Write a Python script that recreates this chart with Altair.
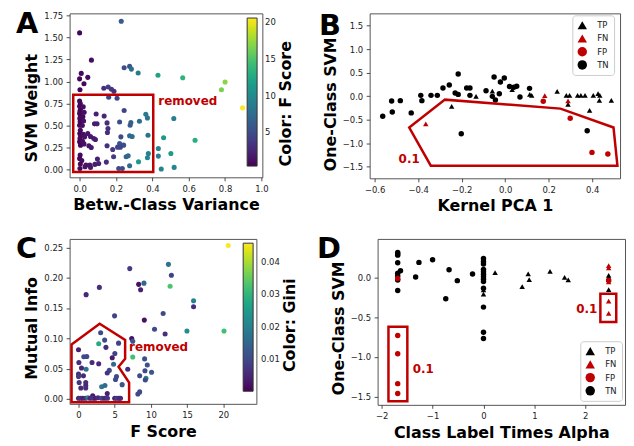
import altair as alt
import pandas as pd

FONT = "DejaVu Sans"
RED = "#c00000"
INK = "#222222"

# ---------------- Panel A data ----------------
A_x = [0.000, 0.229, 0.065, 0.009, 0.000, 0.045, 0.024, 0.002, 0.245, 0.275, 0.285, 0.322,
       0.431, 0.567, 0.800, 0.780, 0.896, 0.133, 0.157, 0.175, 0.189, 0.160, 0.206,
       0.433, 0.462, 0.433, 0.449, 0.502, 0.520, 0.518, 0.635,
       0.000, 0.004, 0.000, 0.006, 0.002, 0.000, 0.005, 0.001, 0.003, 0.000, 0.004, 0.001,
       0.006, 0.002, 0.000, 0.005, 0.003, 0.000, 0.004, 0.002,
       0.020, 0.025, 0.018, 0.022, 0.015, 0.020, 0.028, 0.016, 0.024, 0.012, 0.030,
       0.091, 0.135, 0.082, 0.096, 0.151, 0.156, 0.153, 0.045, 0.060, 0.078, 0.087, 0.051,
       0.064, 0.151, 0.182, 0.187, 0.098, 0.105, 0.084, 0.056, 0.035, 0.060, 0.147, 0.220,
       0.245, 0.282, 0.329, 0.364, 0.373, 0.278, 0.275, 0.289, 0.227, 0.242, 0.220, 0.224,
       0.256, 0.267, 0.215, 0.235, 0.275, 0.324, 0.376, 0.378, 0.373, 0.209]
A_y = [1.553, 1.685, 1.243, 1.092, 1.030, 1.047, 0.975, 0.907, 1.156, 1.172, 1.141, 1.096,
       1.070, 1.043, 0.994, 0.907, 0.700, 0.923, 0.937, 0.911, 0.889, 0.820, 0.810,
       0.238, 0.359, 0.151, 0.004, 0.181, 0.023, 0.578, 0.332,
       0.778, 0.748, 0.718, 0.692, 0.665, 0.635, 0.605, 0.578, 0.541, 0.503, 0.446, 0.408,
       0.378, 0.351, 0.314, 0.276, 0.163, 0.125, 0.061, 0.011,
       0.712, 0.650, 0.600, 0.550, 0.500, 0.400, 0.370, 0.320, 0.290, 0.100, 0.030,
       0.631, 0.608, 0.518, 0.518, 0.529, 0.465, 0.419, 0.408, 0.374, 0.351, 0.340, 0.268,
       0.249, 0.268, 0.227, 0.144, 0.117, 0.068, 0.057, 0.049, 0.049, 0.023, 0.083, 0.540,
       0.669, 0.533, 0.548, 0.627, 0.586, 0.502, 0.382, 0.374, 0.370, 0.276, 0.295, 0.253,
       0.144, 0.155, 0.011, 0.011, 0.042, 0.087, 0.389, 0.181, 0.132, 0.253]
A_f = [0.6, 6.0, 1.0, 0.8, 0.6, 0.9, 0.8, 0.5, 5.0, 5.5, 7.5, 8.5,
       12.0, 13.5, 17.0, 16.5, 20.6, 3.0, 4.0, 3.5, 3.2, 4.5, 4.2,
       9.5, 11.0, 9.0, 9.2, 11.5, 9.5, 9.0, 13.0,
       0.5, 0.7, 0.6, 0.8, 0.5, 0.7, 0.6, 0.9, 0.6, 0.5, 0.8, 0.6,
       0.7, 0.9, 0.5, 0.6, 0.7, 0.5, 0.8, 0.6,
       1.0, 1.1, 0.9, 1.2, 1.0, 1.1, 1.3, 1.0, 1.2, 0.9, 1.2,
       2.0, 2.5, 1.8, 2.0, 3.0, 3.2, 3.0, 1.5, 1.6, 1.8, 1.9, 1.5,
       1.7, 3.2, 3.8, 3.9, 2.1, 2.2, 1.9, 1.5, 1.3, 1.6, 3.0, 5.0,
       4.5, 6.5, 7.5, 8.5, 8.0, 6.0, 7.0, 7.5, 4.8, 5.2, 5.5, 4.5,
       6.5, 7.0, 5.0, 5.2, 7.5, 11.0, 8.0, 9.0, 9.5, 4.5]
A_box_x = [-0.035, 0.405]
A_box_y = [-0.03, 0.85]
A_note = ["removed"]
A_note_x = [0.433]
A_note_y = [0.782]

# ---------------- Panel B data ----------------
B_x = [-0.563, -0.522, -0.519, -0.482, -0.432, -0.388, -0.383, -0.341, -0.312, -0.286,
       -0.257, -0.230, -0.216, -0.216, -0.177, -0.162, -0.162, -0.088, -0.051, -0.059,
       -0.045, -0.022, -0.004, -0.027, 0.020, 0.040, 0.053, 0.068, 0.112, -0.202, 0.377,
       -0.246, -0.134, -0.059, 0.032, 0.113, 0.122, 0.239, 0.281, 0.296, 0.289, 0.333,
       0.348, 0.367, 0.405, 0.427, 0.435, 0.433, 0.488, 0.388,
       -0.365, 0.182, 0.289,
       0.175, 0.299, 0.399, 0.472]
B_y = [-0.428, -0.102, -0.335, -0.095, -0.356, 0.017, -0.095, 0.017, 0.017, 0.174,
       0.237, 0.068, 0.038, 0.470, 0.174, 0.174, 0.017, 0.116, 0.407, -0.004,
       -0.080, 0.300, 0.385, 0.053, 0.205, 0.190, 0.212, -0.017, 0.166, -0.800, -0.735,
       -0.216, -0.004, 0.105, 0.140, 0.038, 0.017, 0.102, 0.017, 0.017, -0.173, 0.017,
       0.017, 0.017, 0.017, 0.053, 0.017, -0.088, -0.088, -0.300,
       -0.590, 0.011, -0.102,
       -0.108, -0.470, -1.196, -1.230]
B_t = ["TN"] * 31 + ["TP"] * 19 + ["FN"] * 3 + ["FP"] * 4
B_poly_x = [-0.441, -0.277, 0.254, 0.498, 0.516, -0.342]
B_poly_y = [-0.667, -0.074, -0.265, -0.667, -1.479, -1.479]
B_note = ["0.1"]
B_note_x = [-0.49]
B_note_y = [-1.345]

# ---------------- Panel C data ----------------
C_x = [20.68, 7.08, 12.42, 12.83, 12.65, 2.88, 1.05, 8.31, 9.04, 8.58, 15.89, 15.89,
       11.69, 4.98, 9.09, 10.50, 11.96, 14.98, 20.10, 3.06, 3.61, 2.79, 5.53, 7.35,
       7.49, 3.79, 0.00, 5.02, 7.49, 0.73, 1.14, 4.66, 9.13, 1.87, 2.79, 4.84,
       0.05, 1.05, 0.41, 4.25, 3.97, 6.80, 9.50, 9.18, 10.09, 8.45, 9.32, 9.22,
       5.25, 5.11, 6.03, 0.00, 0.00, 0.68, 1.00, 1.00, 0.09, 0.32, 1.00, 3.20,
       3.65, 3.97, 8.45, 8.20, 1.96,
       0.0, 0.3, 0.6, 1.0, 1.3, 1.6, 2.0, 2.3, 2.7, 3.2, 3.6, 4.0, 5.0, 5.3, 5.6, 5.8]
C_y = [0.253, 0.215, 0.222, 0.204, 0.186, 0.184, 0.172, 0.189, 0.191, 0.180, 0.162, 0.152,
       0.141, 0.137, 0.130, 0.115, 0.107, 0.112, 0.112, 0.109, 0.097, 0.091, 0.092, 0.0995,
       0.095, 0.085, 0.081, 0.075, 0.069, 0.0695, 0.070, 0.068, 0.066, 0.060, 0.058, 0.057,
       0.060, 0.049, 0.051, 0.047, 0.0427, 0.049, 0.056, 0.0465, 0.044, 0.038, 0.034, 0.031,
       0.037, 0.032, 0.0235, 0.041, 0.037, 0.038, 0.027, 0.022, 0.027, 0.018, 0.018, 0.020,
       0.022, 0.0088, 0.0115, 0.008, 0.005,
       0.001, 0.001, 0.001, 0.001, 0.002, 0.001, 0.001, 0.001, 0.002, 0.001, 0.001, 0.001,
       0.001, 0.001, 0.001, 0.001]
C_g = [0.0458, 0.008, 0.018, 0.009, 0.033, 0.006, 0.005, 0.002, 0.015, 0.004, 0.020, 0.006,
       0.010, 0.009, 0.002, 0.010, 0.006, 0.022, 0.032, 0.010, 0.010, 0.028, 0.009, 0.002,
       0.012, 0.006, 0.004, 0.009, 0.032, 0.010, 0.010, 0.003, 0.011, 0.006, 0.005, 0.016,
       0.006, 0.018, 0.005, 0.010, 0.007, 0.006, 0.011, 0.010, 0.012, 0.010, 0.020, 0.010,
       0.010, 0.010, 0.012, 0.006, 0.008, 0.005, 0.006, 0.005, 0.007, 0.005, 0.006, 0.018,
       0.016, 0.004, 0.010, 0.010, 0.003,
       0.005, 0.007, 0.004, 0.006, 0.020, 0.005, 0.008, 0.004, 0.006, 0.009, 0.005, 0.007,
       0.004, 0.008, 0.006, 0.005]
C_poly_x = [-0.96, 2.92, 6.44, 6.44, 5.53, 6.99, 6.99, -0.96]
C_poly_y = [0.0897, 0.124, 0.0974, 0.066, 0.053, 0.027, -0.0055, -0.0055]
C_note = ["removed"]
C_note_x = [6.99]
C_note_y = [0.0848]

# ---------------- Panel D data ----------------
D_x = [-1.685, -1.685, -1.685, -1.685, -1.630, -1.685, -1.685, -1.685, -1.685, -1.333,
       -1.268, -1.000, -0.741, -0.676, -0.514, -0.215, 0, 0, 0, 0, 0, 0, 0, 0, 0, 0, 0, 0, 0,
       0, 0, 0.228, 0.760, 0.878, 0.898, 1.307, 1.593, 1.665, 2.459, 2.459, 2.459, 2.459,
       2.459, 2.459, 2.459, 2.459, 2.459, -1.685,
       -1.685, -1.685, -1.685, -1.685, -1.685, 2.459]
D_y = [0.3125, 0.295, 0.279, 0.183, 0.083, 0.050, 0.017, -0.033, -0.167, 0.004,
       0.1875, 0.220, -0.270, 0.096, -0.042, 0.042, 0.2375, 0.200, 0.167, 0.100, 0.071,
       0.0375, 0.008, -0.025, -0.054, -0.1375, -0.375, -0.690, -0.770,
       -0.158, -0.2125, 0.058, -0.117, 0.042, -0.029, 0.075, 0.000, -0.033, 0.025, 0.000,
       -0.029, -0.154,
       0.146, 0.117, -0.058, -0.300, -0.454, 0.000,
       -0.733, -0.9625, -1.3375, -1.4625, -0.015, -0.040]
D_t = ["TN"] * 29 + ["TP"] * 13 + ["FN"] * 6 + ["FP"] * 6
D_box1_x = [-1.867, -1.496]
D_box1_y = [-1.558, -0.621]
D_box2_x = [2.296, 2.608]
D_box2_y = [-0.5625, -0.208]
D_note = ["0.1", "0.1"]
D_note_x = [-1.392, 1.821]
D_note_y = [-1.154, -0.396]

CLASSES = ["TP", "FN", "FP", "TN"]
CLASS_COLORS = ["black", RED, RED, "black"]
CLASS_SHAPES = ["triangle-up", "triangle-up", "circle", "circle"]


def ax(values, fmt, **kw):
    return alt.Axis(values=values, format=fmt, grid=False, domain=False,
                    tickSize=3.5, tickWidth=0.8, tickColor=INK,
                    labelColor=INK, labelFont=FONT, labelFontSize=8.5, labelPadding=3.5,
                    labelFlush=False, labelOverlap=False,
                    titleFont=FONT, titleFontSize=16, titleFontWeight="bold",
                    titleColor="black", titlePadding=4, **kw)


def letter(ch, dx, dy):
    return alt.Chart(pd.DataFrame({"t": [ch]})).mark_text(
        align="left", baseline="alphabetic", font=FONT, fontSize=29,
        fontWeight="bold", color="black").encode(
        x=alt.value(dx), y=alt.value(dy), text="t:N")


def bar_title(txt, dx, dy):
    return alt.Chart(pd.DataFrame({"t": [txt]})).mark_text(
        align="left", baseline="alphabetic", font=FONT, fontSize=16, angle=270,
        fontWeight="bold", color="black").encode(
        x=alt.value(dx), y=alt.value(dy), text="t:N")


def note(df, X, Y, align="left"):
    return alt.Chart(df).mark_text(align=align, baseline="middle", font=FONT,
                                   fontSize=12, fontWeight="bold", color=RED).encode(
        x=X, y=Y, text="t:N")


def box(df, X, Y):
    return alt.Chart(df).mark_rect(fillOpacity=0, stroke=RED, strokeWidth=2.5).encode(
        x=X, x2="x2:Q", y=Y, y2="y2:Q")


def poly(df, X, Y):
    return alt.Chart(df).mark_line(color=RED, strokeWidth=2.5, interpolate="linear-closed",
                                   strokeJoin="miter").encode(x=X, y=Y, order="o:Q")


def class_legend(lx, ly):
    return alt.Legend(orient="none", legendX=lx, legendY=ly, fillColor="white",
                      strokeColor="#cccccc", cornerRadius=3, padding=5,
                      symbolSize=90, symbolStrokeWidth=0, symbolOpacity=1,
                      labelFont=FONT, labelFontSize=8.5, labelColor=INK,
                      labelOffset=10, rowPadding=3.3)


def class_enc(lx, ly):
    lg = class_legend(lx, ly)
    return dict(
        color=alt.Color("t:N", title=None,
                        scale=alt.Scale(domain=CLASSES, range=CLASS_COLORS), legend=lg),
        shape=alt.Shape("t:N", title=None,
                        scale=alt.Scale(domain=CLASSES, range=CLASS_SHAPES), legend=lg))


def bar_legend(lx, ly, vals, fmt):
    return alt.Legend(orient="none", legendX=lx, legendY=ly, direction="vertical",
                      gradientLength=149, gradientThickness=10, values=vals, format=fmt,
                      padding=0, labelFont=FONT, labelFontSize=8.5, labelColor=INK,
                      labelOffset=8, labelOverlap=False,
                      gradientStrokeColor="#333333", gradientStrokeWidth=1)


# ---------------- Panel A ----------------
xA = alt.X("x:Q", title="Betw.-Class Variance",
           scale=alt.Scale(domain=[-0.055, 1.005], nice=False, zero=False),
           axis=ax([0, 0.2, 0.4, 0.6, 0.8, 1.0], ".1f"))
yA = alt.Y("y:Q", title="SVM Weight",
           scale=alt.Scale(domain=[-0.09, 1.775], nice=False, zero=False),
           axis=ax([0, 0.25, 0.5, 0.75, 1.0, 1.25, 1.5, 1.75], ".2f", titleY=95))
ptsA = alt.Chart(pd.DataFrame({"x": A_x, "y": A_y, "f": A_f})).mark_circle(
    size=26, opacity=1).encode(
    x=xA, y=yA,
    color=alt.Color("f:Q", title=None,
                    scale=alt.Scale(scheme="viridis", domain=[0.36, 20.6]),
                    legend=bar_legend(178.7, 4.7, [5, 10, 15, 20], "d")))
boxA = box(pd.DataFrame({"x": [A_box_x[0]], "x2": [A_box_x[1]],
                         "y": [A_box_y[0]], "y2": [A_box_y[1]]}), xA, yA)
noteA = note(pd.DataFrame({"x": A_note_x, "y": A_note_y, "t": A_note}), xA, yA)
panelA = alt.layer(ptsA, boxA, noteA, letter("A", -54, 20),
                   bar_title("Color: F Score", 223, 154)).properties(width=194, height=165)

# ---------------- Panel B ----------------
xB = alt.X("x:Q", title="Kernel PCA 1",
           scale=alt.Scale(domain=[-0.623, 0.528], nice=False, zero=False),
           axis=ax([-0.6, -0.4, -0.2, 0.0, 0.2, 0.4], ".1f"))
yB = alt.Y("y:Q", title="One-Class SVM",
           scale=alt.Scale(domain=[-1.747, 1.761], nice=False, zero=False),
           axis=ax([-1.5, -1.0, -0.5, 0.0, 0.5, 1.0, 1.5], ".1f", titleY=91))
ptsB = alt.Chart(pd.DataFrame({"x": B_x, "y": B_y, "t": B_t})).mark_point(
    filled=True, size=30, opacity=1).encode(x=xB, y=yB, **class_enc(204, 2))
polyB = poly(pd.DataFrame({"x": B_poly_x, "y": B_poly_y,
                           "o": list(range(len(B_poly_x)))}), xB, yB)
noteB = note(pd.DataFrame({"x": B_note_x, "y": B_note_y, "t": B_note}), xB, yB)
panelB = alt.layer(ptsB, polyB, noteB, letter("B", -51, 22)).properties(width=252, height=166)

# ---------------- Panel C ----------------
xC = alt.X("x:Q", title="F Score",
           scale=alt.Scale(domain=[-1.23, 24.57], nice=False, zero=False),
           axis=ax([0, 5, 10, 15, 20], "d"))
yC = alt.Y("y:Q", title="Mutual Info",
           scale=alt.Scale(domain=[-0.0082, 0.264], nice=False, zero=False),
           axis=ax([0, 0.05, 0.10, 0.15, 0.20, 0.25], ".2f", titleY=89.5))
ptsC = alt.Chart(pd.DataFrame({"x": C_x, "y": C_y, "g": C_g})).mark_circle(
    size=26, opacity=1).encode(
    x=xC, y=yC,
    color=alt.Color("g:Q", title=None,
                    scale=alt.Scale(scheme="viridis", domain=[0.0, 0.0458]),
                    legend=bar_legend(174.7, 4.3, [0.01, 0.02, 0.03, 0.04], ".2f")))
polyC = poly(pd.DataFrame({"x": C_poly_x, "y": C_poly_y,
                           "o": list(range(len(C_poly_x)))}), xC, yC)
noteC = note(pd.DataFrame({"x": C_note_x, "y": C_note_y, "t": C_note}), xC, yC)
panelC = alt.layer(ptsC, polyC, noteC, letter("C", -54, 19),
                   bar_title("Color: Gini", 226.5, 134)).properties(width=188, height=166)

# ---------------- Panel D ----------------
xD = alt.X("x:Q", title="Class Label Times Alpha",
           scale=alt.Scale(domain=[-2.08, 2.78], nice=False, zero=False),
           axis=ax([-2, -1, 0, 1, 2], "d"))
yD = alt.Y("y:Q", title="One-Class SVM",
           scale=alt.Scale(domain=[-1.604, 0.483], nice=False, zero=False),
           axis=ax([-1.5, -1.0, -0.5, 0.0], ".1f", titleY=89.5))
ptsD = alt.Chart(pd.DataFrame({"x": D_x, "y": D_y, "t": D_t})).mark_point(
    filled=True, size=30, opacity=1).encode(x=xD, y=yD, **class_enc(204, 103))
boxD = box(pd.DataFrame({"x": [D_box1_x[0], D_box2_x[0]], "x2": [D_box1_x[1], D_box2_x[1]],
                         "y": [D_box1_y[0], D_box2_y[0]], "y2": [D_box1_y[1], D_box2_y[1]]}),
           xD, yD)
noteD1 = note(pd.DataFrame({"x": D_note_x, "y": D_note_y, "t": D_note}), xD, yD)
panelD = alt.layer(ptsD, boxD, noteD1, letter("D", -61, 19)).properties(width=249, height=167)

IND = dict(color="independent", shape="independent")
row1 = alt.hconcat(panelA, panelB, spacing=108, bounds="flush").resolve_scale(
    **IND).resolve_legend(**IND)
row2 = alt.hconcat(panelC, panelD, spacing=122, bounds="flush").resolve_scale(
    **IND).resolve_legend(**IND)
chart = alt.vconcat(row1, row2, spacing=20).resolve_scale(**IND).resolve_legend(
    **IND).configure_view(stroke="#555555", strokeWidth=1).properties(
    padding={"left": 7, "top": 0, "right": 0, "bottom": 0}, background="white")

chart.save("out.html", embed_options={"renderer": "svg", "actions": False})
